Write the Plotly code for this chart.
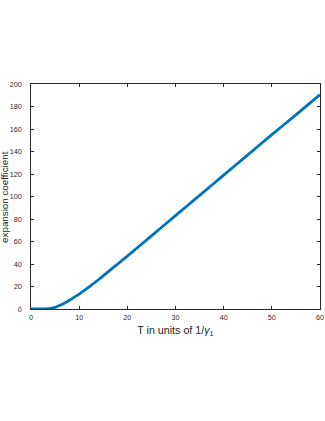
import plotly.graph_objects as go

# values
T_VALUES = [0, 1, 2, 3, 4, 5, 6, 7, 8, 9, 10, 12, 14, 16, 18, 20, 25, 30, 35, 40, 45, 50, 55, 60]
COEFF = [0, 0.0, 0.05, 0.2, 0.6, 1.5, 3.3, 5.3, 7.8, 10.5, 13.3, 19.5, 26, 33, 40, 47,
         65, 83, 101, 119, 137, 155, 172.5, 190.5]

X_TICKS = [0, 10, 20, 30, 40, 50, 60]
Y_TICKS = [0, 20, 40, 60, 80, 100, 120, 140, 160, 180, 200]

AX = "#262626"
FONT = "Liberation Sans, Arial, sans-serif"

fig = go.Figure()
fig.add_trace(go.Scatter(
    x=T_VALUES, y=COEFF, mode="lines",
    line=dict(color="#0072BD", width=2.8, shape="spline", smoothing=0.6),
    showlegend=False,
))

axis_common = dict(
    showline=True, linecolor=AX, linewidth=0.8, mirror="ticks",
    ticks="inside", ticklen=3, tickwidth=0.8, tickcolor=AX,
    showgrid=False, zeroline=False, automargin=False,
    ticklabeloverflow="allow",
    tickfont=dict(family=FONT, size=7.2, color=AX),
)

fig.update_xaxes(range=[0, 60], tickvals=X_TICKS, ticklabelstandoff=1,
                 title=dict(text="T in units of 1/<i>γ</i><sub>1</sub>",
                            font=dict(family=FONT, size=10.7, color=AX), standoff=5),
                 **axis_common)
fig.update_yaxes(range=[0, 200], tickvals=Y_TICKS, ticklabelstandoff=7, **axis_common)

# y title as a rotated label left of the tick labels
fig.add_annotation(
    text="expansion coefficient", textangle=-90,
    xref="paper", yref="paper", x=-0.092, y=0.5,
    xanchor="center", yanchor="middle", showarrow=False,
    font=dict(family=FONT, size=9.8, color=AX),
)

fig.update_layout(
    width=325, height=421,
    margin=dict(l=31, r=5, t=84, b=112),
    paper_bgcolor="white", plot_bgcolor="white",
)

# drop the default 8px body margin so the figure sits at the page corner
fig.write_html("out.html", config={"displayModeBar": False},
               post_script="document.body.style.margin='0';")
